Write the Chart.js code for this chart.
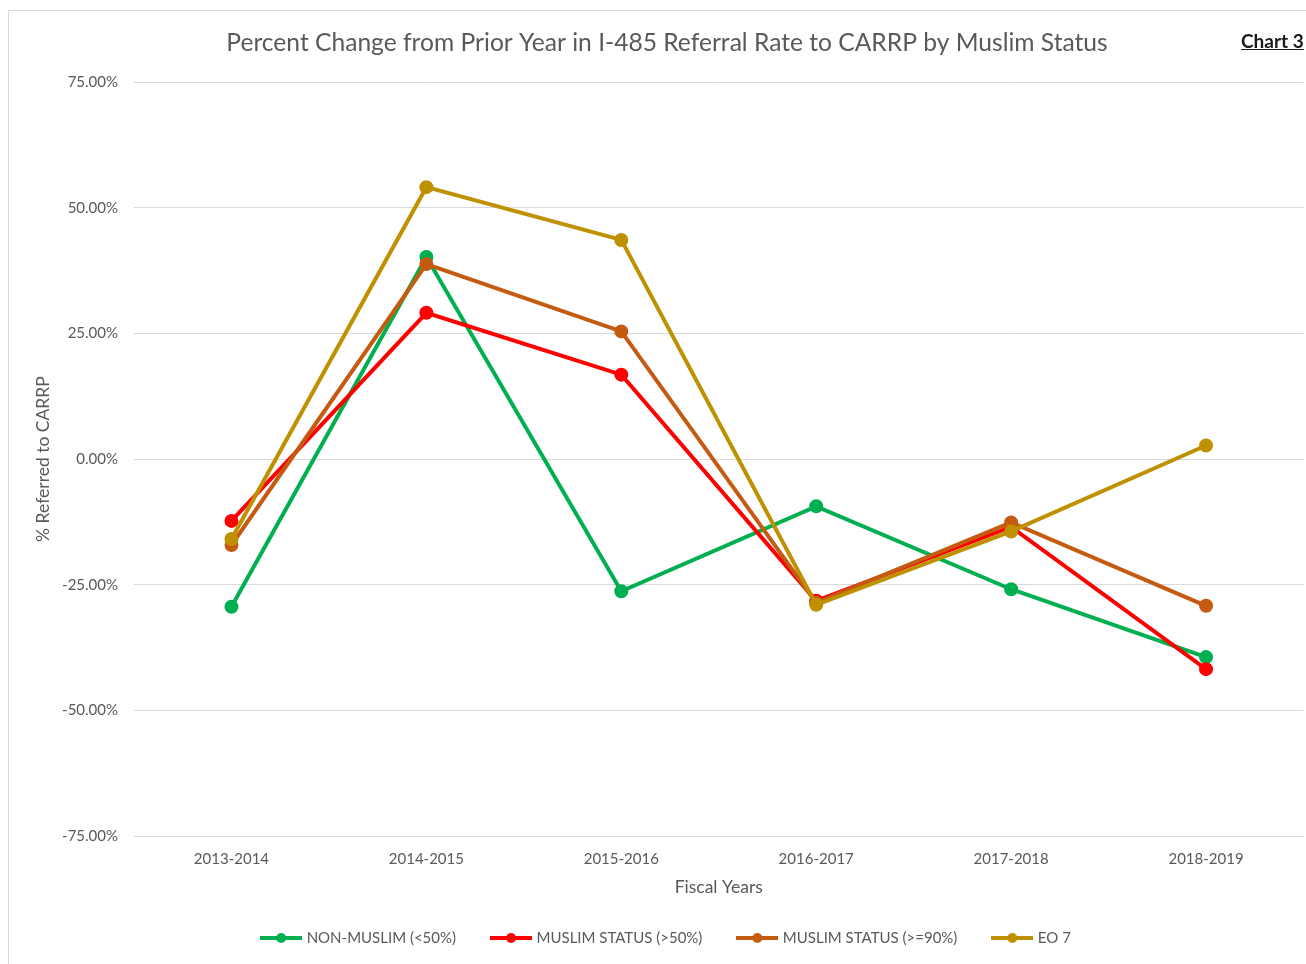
<!DOCTYPE html>
<html>
<head>
<meta charset="utf-8">
<script src="https://cdn.jsdelivr.net/npm/chart.js@4.4.1/dist/chart.umd.min.js"></script>
<style>
  html, body { margin: 0; padding: 0; background: #fff; overflow: hidden; }
  #frame { position: absolute; left: 8px; top: 10px; width: 1316px; height: 960px; border: 1px solid #d9d9d9; }
  #tag { position: absolute; left: 1241px; top: 29px; font: bold 19px Lato, sans-serif; color: #1a1a1a; text-decoration: underline; }
</style>
</head>
<body>
<div id="frame"><canvas id="myChart" width="1316" height="960"></canvas></div>
<div id="tag">Chart 3</div>
<script>
// fiscal years and % change values
const years = ['2013-2014', '2014-2015', '2015-2016', '2016-2017', '2017-2018', '2018-2019'];
const nonMuslim = [-29.4, 40.2, -26.3, -9.4, -25.9, -39.4];
const muslim50 = [-12.3, 29.1, 16.8, -28.2, -13.5, -41.8];
const muslim90 = [-17.1, 38.8, 25.4, -28.6, -12.6, -29.2];
const eo7 = [-15.9, 54.1, 43.6, -29.0, -14.4, 2.7];
const yTicks = [-75, -50, -25, 0, 25, 50, 75];

const textColor = '#595959';
const font = 'Lato, sans-serif';

// legend marker: line with a dot in the middle
function marker(color) {
  const c = document.createElement('canvas');
  c.width = 42; c.height = 12;
  const g = c.getContext('2d');
  g.strokeStyle = color;
  g.lineWidth = 4;
  g.beginPath();
  g.moveTo(0, 6); g.lineTo(42, 6);
  g.stroke();
  g.fillStyle = color;
  g.beginPath();
  g.arc(21, 6, 5, 0, Math.PI * 2);
  g.fill();
  return c;
}

function series(label, data, color, order) {
  return {
    label: label,
    data: data,
    borderColor: color,
    backgroundColor: color,
    borderWidth: 4,
    pointRadius: 5,
    pointHoverRadius: 5,
    tension: 0,
    order: order
  };
}

const ctx = document.getElementById('myChart');
const myChart = new Chart(ctx, {
  type: 'line',
  data: {
    labels: years,
    datasets: [
      series('NON-MUSLIM (<50%)', nonMuslim, '#00B050', 4),
      series('MUSLIM STATUS (>50%)', muslim50, '#FF0000', 3),
      series('MUSLIM STATUS (>=90%)', muslim90, '#C55A11', 2),
      series('EO 7', eo7, '#BF9000', 1)
    ]
  },
  options: {
    responsive: false,
    animation: false,
    layout: { padding: { left: 21.5, right: 21.5, top: 0, bottom: 15.5 } },
    plugins: {
      title: {
        display: true,
        text: 'Percent Change from Prior Year in I-485 Referral Rate to CARRP by Muslim Status',
        color: textColor,
        font: { family: font, size: 24.6, weight: 'normal' },
        padding: { top: 17.3, bottom: 24.3 }
      },
      legend: {
        position: 'bottom',
        labels: {
          color: textColor,
          font: { family: font, size: 15 },
          usePointStyle: true,
          pointStyleWidth: 36,
          boxHeight: 12,
          padding: 37,
          generateLabels: (chart) => chart.data.datasets.map((ds, i) => ({
            text: ds.label,
            fillStyle: ds.borderColor,
            strokeStyle: ds.borderColor,
            lineWidth: 0,
            pointStyle: marker(ds.borderColor),
            fontColor: textColor,
            hidden: false,
            datasetIndex: i
          }))
        }
      },
      tooltip: { enabled: false }
    },
    scales: {
      x: {
        offset: true,
        grid: { display: false },
        border: { display: false },
        ticks: { color: textColor, font: { family: font, size: 15 }, padding: 6 },
        title: {
          display: true,
          text: 'Fiscal Years',
          color: textColor,
          font: { family: font, size: 17.5 },
          padding: { top: 0, bottom: -4 }
        },
        afterFit: (scale) => { scale.height = 57.5; }
      },
      y: {
        min: -75,
        max: 75,
        afterBuildTicks: (scale) => { scale.ticks = yTicks.map(v => ({ value: v })); },
        grid: { color: '#d9d9d9', lineWidth: 1, drawTicks: false },
        border: { display: false },
        ticks: {
          color: textColor,
          font: { family: font, size: 15 },
          padding: 16,
          callback: (v) => v.toFixed(2) + '%'
        },
        title: {
          display: true,
          text: '% Referred to CARRP',
          color: textColor,
          font: { family: font, size: 17.5 },
          padding: { top: 2, bottom: 0 }
        },
        afterFit: (scale) => { scale.width = 103.5; }
      }
    }
  }
});
</script>
</body>
</html>
